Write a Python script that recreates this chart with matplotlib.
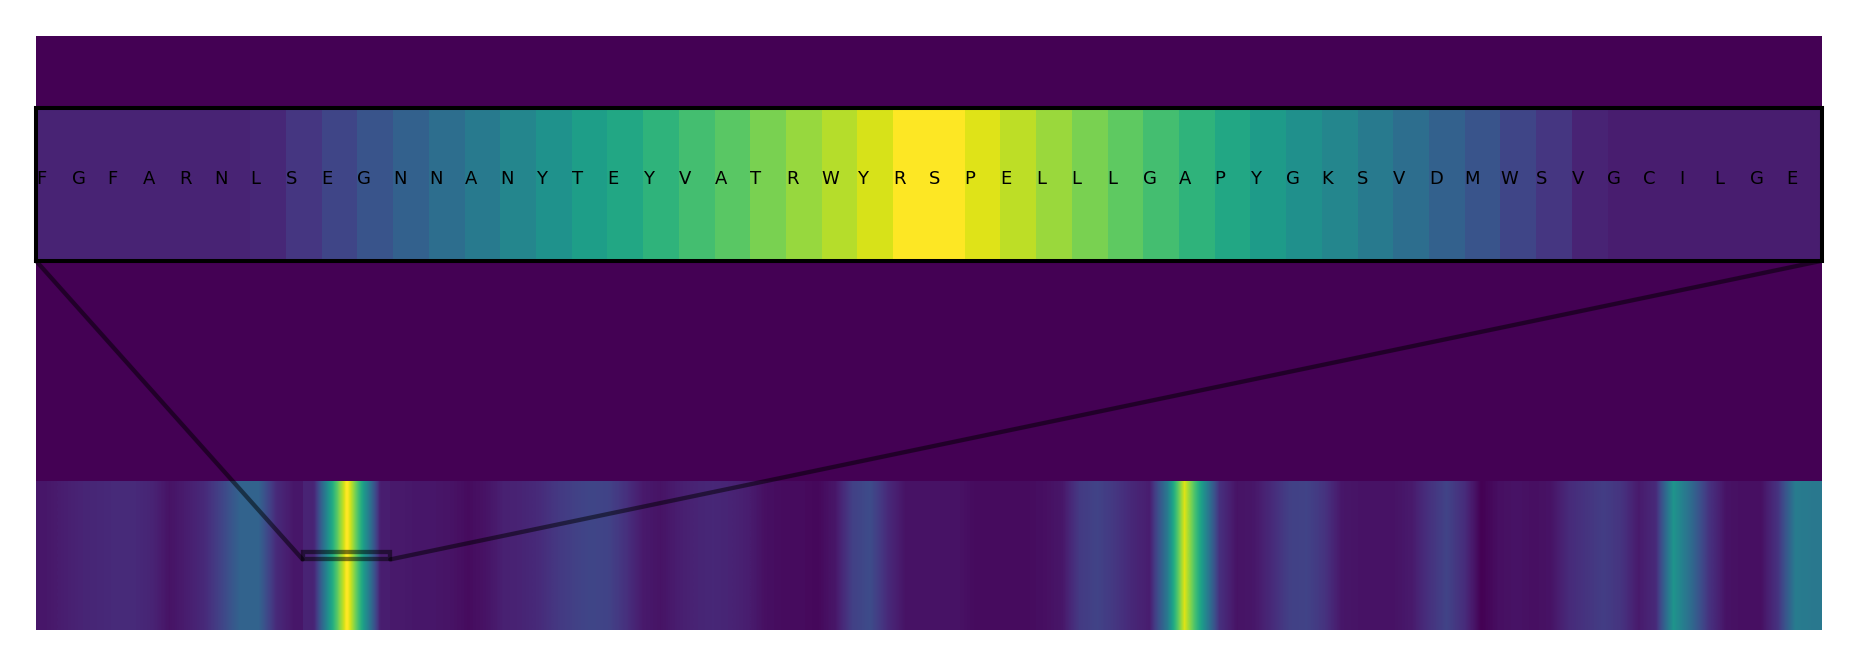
import matplotlib
matplotlib.use("Agg")
import matplotlib.pyplot as plt
from matplotlib.patches import ConnectionPatch

# Longitud de la secuencia y region ampliada (en residuos)
seq_len = 1018
zoom_start = 152
zoom_end = 202

# Residuos de la region ampliada
zoom_residues = list("FGFARNLSEGNNANYTEYVATRWYRSPELLLGAPYGKSVDMWSVGCILGE")

# Puntuacion de cada residuo de la region ampliada (0-1)
zoom_scores = [0.10, 0.10, 0.10, 0.10, 0.10, 0.10, 0.11, 0.16, 0.21, 0.26,
               0.31, 0.36, 0.41, 0.46, 0.51, 0.56, 0.60, 0.65, 0.70, 0.745,
               0.80, 0.845, 0.89, 0.94, 1.00, 1.00, 0.95, 0.90, 0.85, 0.80,
               0.75, 0.70, 0.65, 0.60, 0.55, 0.50, 0.46, 0.41, 0.36, 0.31,
               0.26, 0.21, 0.16, 0.10, 0.08, 0.08, 0.08, 0.08, 0.08, 0.08]

# Puntuacion del resto de la secuencia (leida a menor resolucion)
left_scores = [0.06, 0.08, 0.10, 0.11, 0.12, 0.12, 0.10, 0.05, 0.08, 0.12,
               0.21, 0.32, 0.32, 0.12, 0.06]

right_scores = [0.07, 0.06, 0.06, 0.05, 0.03, 0.05, 0.09, 0.10, 0.12, 0.16,
                0.19, 0.21, 0.20, 0.14, 0.07, 0.05, 0.08, 0.10, 0.11, 0.10,
                0.08, 0.04, 0.03, 0.03, 0.02, 0.06, 0.19, 0.23, 0.12, 0.05,
                0.05, 0.05, 0.05, 0.03, 0.03, 0.03, 0.03, 0.04, 0.06, 0.17,
                0.20, 0.16, 0.11, 0.08, 0.40, 0.95, 0.55, 0.14, 0.05, 0.06,
                0.12, 0.19, 0.20, 0.15, 0.06, 0.05, 0.05, 0.05, 0.07, 0.14,
                0.20, 0.13, 0.00, 0.04, 0.05, 0.04, 0.05, 0.12, 0.15, 0.18,
                0.15, 0.07, 0.12, 0.52, 0.35, 0.15, 0.05, 0.04, 0.04, 0.15,
                0.42, 0.40]

W, H = 1857, 667
fig = plt.figure(figsize=(W / 100, H / 100), dpi=100)
ax = fig.add_axes([36 / W, 37 / H, 1785.6 / W, 594.5 / H])
ax.set_facecolor(plt.cm.viridis(0.0))

# Tira completa de la secuencia
style = dict(cmap="viridis", vmin=0, vmax=1, aspect="auto")
ax.imshow([left_scores], interpolation="bilinear",
          extent=[0, zoom_start, -0.5, 0.5], **style)
ax.imshow([zoom_scores], interpolation="bilinear",
          extent=[zoom_start, zoom_end, -0.5, 0.5], **style)
ax.imshow([right_scores], interpolation="bilinear",
          extent=[zoom_end, seq_len, -0.5, 0.5], **style)
ax.set_xlim(0, seq_len)
ax.set_ylim(-0.5, 3.5)
ax.set_xticks([])
ax.set_yticks([])
for s in ax.spines.values():
    s.set_visible(False)

# Ampliacion con las letras
y0, y1 = -0.025, 0.025
axins = ax.inset_axes([0, 0.621, 1, 0.257])
axins.imshow([zoom_scores], interpolation="nearest",
             extent=[zoom_start, zoom_end, -0.5, 0.5], **style)
axins.set_xlim(zoom_start, zoom_end)
axins.set_ylim(y0, y1)
axins.set_xticks([])
axins.set_yticks([])
for s in axins.spines.values():
    s.set_linewidth(2.9)
    s.set_color("black")
for k, res in enumerate(zoom_residues):
    axins.text(zoom_start + k, 0, res, fontsize=13, color="black")

# Rectangulo de la zona ampliada y lineas de union (esquinas inferiores)
line_kw = dict(edgecolor="black", alpha=0.5, linewidth=3.1)
ax.indicate_inset([zoom_start, y0, zoom_end - zoom_start, y1 - y0], **line_kw)
for corner, x_data in [((0, 0), zoom_start), ((1, 0), zoom_end)]:
    con = ConnectionPatch(xyA=corner, coordsA=axins.transAxes,
                          xyB=(x_data, y0), coordsB=ax.transData,
                          arrowstyle="-", **line_kw)
    fig.add_artist(con)

fig.savefig("out.png", dpi=100)
